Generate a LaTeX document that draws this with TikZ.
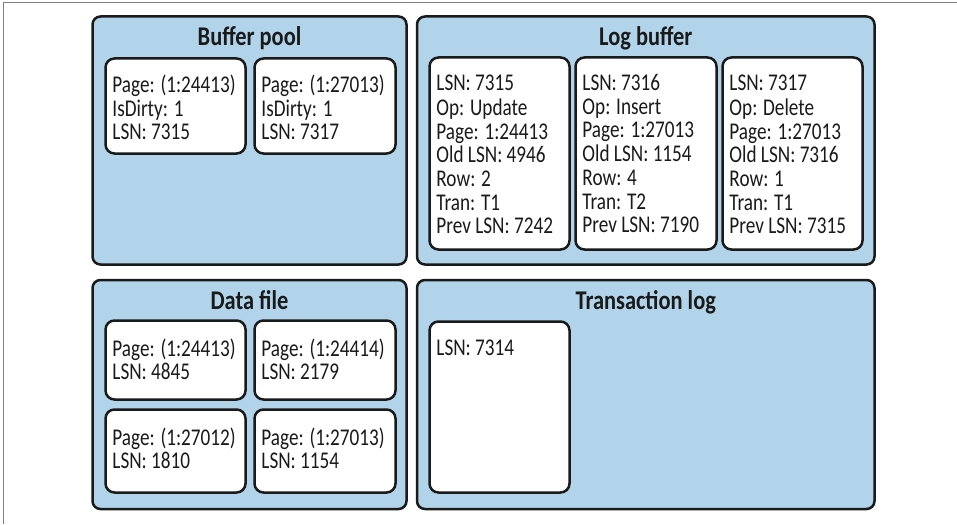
\documentclass[tikz,border=0pt]{standalone}
\usepackage{fontspec}
\setmainfont{Carlito}[FakeStretch=0.8]
\newfontfamily\titlefont{Carlito}[FakeStretch=0.83]
\usetikzlibrary{calc}
\definecolor{boxblue}{RGB}{177,212,234}
\definecolor{ink}{RGB}{26,26,26}
\definecolor{framegray}{RGB}{128,128,128}
\tikzset{
  outerbox/.style={draw=ink, line width=2.5pt, fill=boxblue, rounded corners=8pt, inner sep=0pt},
  pagebox/.style={draw=ink, line width=2.5pt, fill=white, rounded corners=9pt, inner sep=0pt},
  titletext/.style={anchor=base, inner sep=0pt, text=ink, font=\titlefont\bfseries\fontsize{27}{30}\selectfont},
  bodytext/.style={anchor=north west, inner sep=0pt, align=left, text=ink, font=\fontsize{24}{23.7}\selectfont}
}
\begin{document}
\begin{tikzpicture}[x=1pt,y=-1pt]
\useasboundingbox (0,0) rectangle (957,524);
% frame lines
\coordinate (fbl) at (3,524);
\coordinate (ftl) at (3,3);
\coordinate (ftr) at (957,3);
\draw[framegray, line width=1pt] (fbl) -- (ftl) -- (ftr);

% outer containers
\node[outerbox, minimum width=314pt, minimum height=248pt] (bufpool) at (249.5,140.5) {};
\node[outerbox, minimum width=457.5pt, minimum height=248pt] (logbuf) at (645.75,140.5) {};
\node[outerbox, minimum width=314pt, minimum height=229pt] (datafile) at (249.5,394.5) {};
\node[outerbox, minimum width=457.5pt, minimum height=229pt] (tranlog) at (645.75,394.5) {};

% titles
\node[titletext] (bufpoolT) at ($(bufpool.north)+(0,30.5)$) {Buffer pool};
\node[titletext] (logbufT) at ($(logbuf.north)+(0,30.5)$) {Log buffer};
\node[titletext] (datafileT) at ($(datafile.north)+(0,30.5)$) {Data file};
\node[titletext] (tranlogT) at ($(tranlog.north)+(0,30.5)$) {Transaction log};

% buffer pool pages
\node[pagebox, minimum width=140pt, minimum height=95pt] (bp1) at (175.5,106) {};
\node[pagebox, minimum width=141pt, minimum height=95pt] (bp2) at (325,106) {};
\node[bodytext] (bp1t) at ($(bp1.north west)+(8,17.5)$) {\strut Page: (1:24413)\\IsDirty: 1\\LSN: 7315};
\node[bodytext] (bp2t) at ($(bp2.north west)+(8,17.5)$) {\strut Page: (1:27013)\\IsDirty: 1\\LSN: 7317};

% log buffer records
\node[pagebox, minimum width=140pt, minimum height=192pt] (lb1) at (499.5,153.5) {};
\node[pagebox, minimum width=141pt, minimum height=192pt] (lb2) at (646,153.5) {};
\node[pagebox, minimum width=140pt, minimum height=192pt] (lb3) at (792.5,153.5) {};
\node[bodytext] (lb1t) at ($(lb1.north west)+(8,17.5)$) {\strut LSN: 7315\\Op: Update\\Page: 1:24413\\Old LSN: 4946\\Row: 2\\Tran: T1\\Prev LSN: 7242};
\node[bodytext] (lb2t) at ($(lb2.north west)+(8,17.5)$) {\strut LSN: 7316\\Op: Insert\\Page: 1:27013\\Old LSN: 1154\\Row: 4\\Tran: T2\\Prev LSN: 7190};
\node[bodytext] (lb3t) at ($(lb3.north west)+(8,17.5)$) {\strut LSN: 7317\\Op: Delete\\Page: 1:27013\\Old LSN: 7316\\Row: 1\\Tran: T1\\Prev LSN: 7315};

% data file pages
\node[pagebox, minimum width=140pt, minimum height=79pt] (df1) at (175.5,360) {};
\node[pagebox, minimum width=141pt, minimum height=79pt] (df2) at (325,360) {};
\node[pagebox, minimum width=140pt, minimum height=83pt] (df3) at (175.5,451) {};
\node[pagebox, minimum width=141pt, minimum height=83pt] (df4) at (325,451) {};
\node[bodytext] (df1t) at ($(df1.north west)+(8,19)$) {\strut Page: (1:24413)\\LSN: 4845};
\node[bodytext] (df2t) at ($(df2.north west)+(8,19)$) {\strut Page: (1:24414)\\LSN: 2179};
\node[bodytext] (df3t) at ($(df3.north west)+(8,19)$) {\strut Page: (1:27012)\\LSN: 1810};
\node[bodytext] (df4t) at ($(df4.north west)+(8,19)$) {\strut Page: (1:27013)\\LSN: 1154};

% transaction log
\node[pagebox, minimum width=140pt, minimum height=171pt] (tl1) at (499.5,407) {};
\node[bodytext] (tl1t) at ($(tl1.north west)+(8,18.5)$) {\strut LSN: 7314};
\end{tikzpicture}
\end{document}
